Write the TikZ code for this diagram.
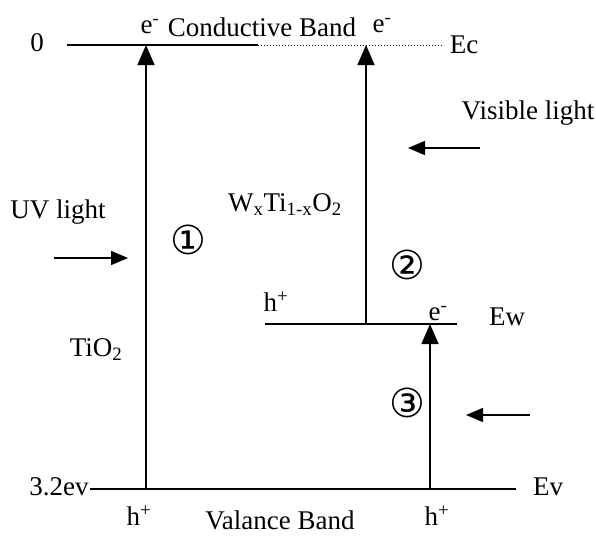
\documentclass[tikz,border=0pt]{standalone}
\usepackage{fontspec}
\setmainfont{Liberation Serif}
\newfontfamily\symfont{DejaVu Sans}
\usetikzlibrary{arrows.meta}
\tikzset{
  lvl/.style={line width=1.8pt},
  jump/.style={line width=1.5pt,-{Triangle[length=20pt,width=17pt]}},
  light/.style={line width=1.5pt,-{Triangle[length=17pt,width=14pt]}},
  lbl/.style={font=\fontsize{27}{30}\selectfont, inner sep=0pt},
  num/.style={font=\symfont\fontsize{40}{42}\selectfont, inner sep=0pt}
}
\begin{document}
\begin{tikzpicture}[x=1pt,y=-1pt]
\useasboundingbox (0,0) rectangle (596,536);
% coordinates
\coordinate (ca) at (67,45);
\coordinate (cb) at (258,45);
\coordinate (cc) at (442,45);
\coordinate (wa) at (265,324);
\coordinate (wb) at (457,324);
\coordinate (va) at (90,489);
\coordinate (vb) at (516,489);
\coordinate (a1s) at (146,489);
\coordinate (a1e) at (146,45);
\coordinate (a2s) at (366,324);
\coordinate (a2e) at (366,45);
\coordinate (a3s) at (430,489);
\coordinate (a3e) at (430,324);
\coordinate (uvs) at (54,258);
\coordinate (uve) at (128,258);
\coordinate (vis) at (480,148);
\coordinate (vie) at (408,148);
\coordinate (bls) at (530,415);
\coordinate (ble) at (466,415);
% levels
\draw[lvl] (ca) -- (cb);
\draw[line width=1pt, dotted] (cb) -- (cc);
\draw[lvl] (wa) -- (wb);
\draw[lvl] (va) -- (vb);
% transitions
\draw[jump] (a1s) -- (a1e);
\draw[jump] (a2s) -- (a2e);
\draw[jump] (a3s) -- (a3e);
% light
\draw[light] (uvs) -- (uve);
\draw[light] (vis) -- (vie);
\draw[light] (bls) -- (ble);
% labels
\node[lbl] (zero) at (37,43) {0};
\node[lbl] (et1) at (150,27) {e\textsuperscript{-}};
\node[lbl] (cband) at (262,27) {Conductive Band};
\node[lbl] (et2) at (382,26) {e\textsuperscript{-}};
\node[lbl] (ec) at (464,45) {Ec};
\node[lbl] (vislight) at (528,113) {Visible light};
\node[lbl] (uvlight) at (58,212) {UV light};
\node[num] (n1) at (188,240) {①};
\node[lbl] (wti) at (285,205) {W\textsubscript{x}Ti\textsubscript{1-x}O\textsubscript{2}};
\node[num] (n2) at (407,265) {②};
\node[lbl] (hm) at (276,302) {h\textsuperscript{+}};
\node[lbl] (em) at (438,314) {e\textsuperscript{-}};
\node[lbl] (ew) at (507,317) {Ew};
\node[lbl] (tio) at (96,350) {TiO\textsubscript{2}};
\node[num] (n3) at (407,403) {③};
\node[lbl] (ev32) at (59,487) {3.2ev};
\node[lbl] (ev) at (548,487) {Ev};
\node[lbl] (hb1) at (139,516) {h\textsuperscript{+}};
\node[lbl] (vband) at (280,520) {Valance Band};
\node[lbl] (hb2) at (437,516) {h\textsuperscript{+}};
\end{tikzpicture}
\end{document}
